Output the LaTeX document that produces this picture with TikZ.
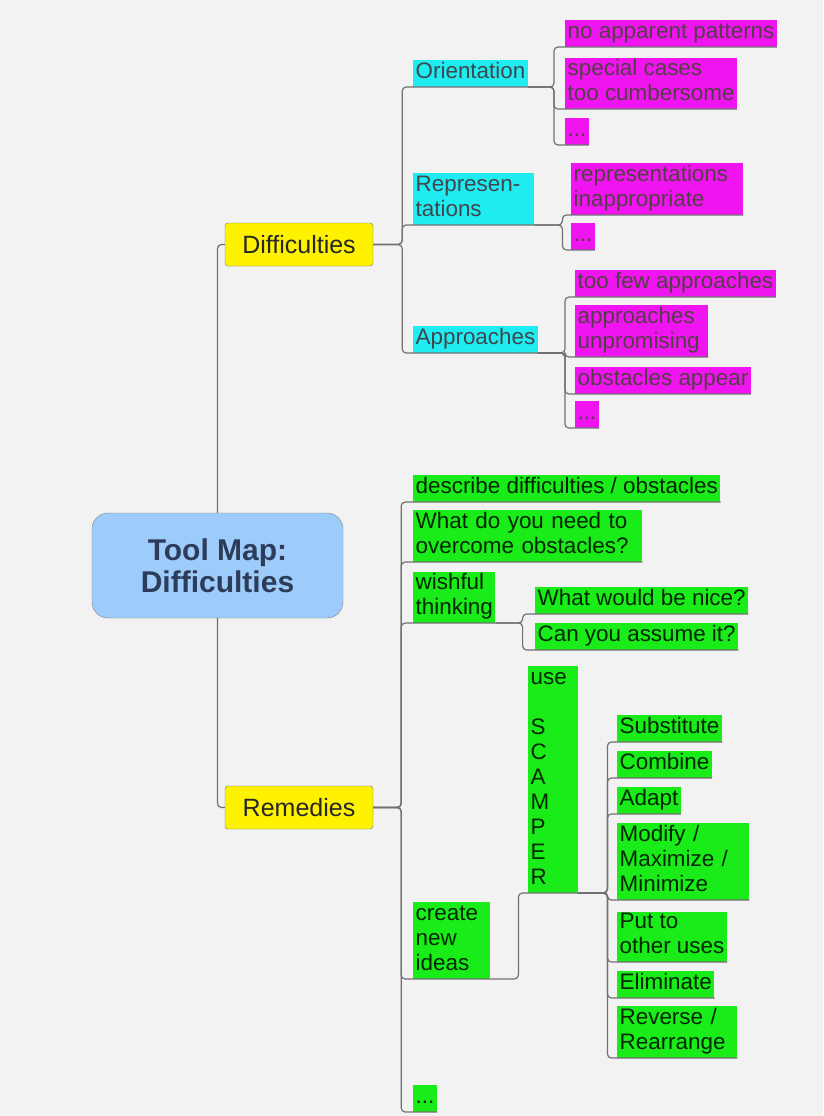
\documentclass[tikz,border=0pt]{standalone}
\usepackage{fontspec}
\setmainfont{Liberation Sans}

\definecolor{bg}{RGB}{242,242,242}
\definecolor{rootblue}{RGB}{158,204,250}
\definecolor{rootink}{RGB}{45,60,90}
\definecolor{linegray}{RGB}{112,112,112}
\definecolor{pinkbox}{RGB}{240,20,240}
\definecolor{cyanbox}{RGB}{30,236,240}
\definecolor{greenbox}{RGB}{25,236,25}

\tikzset{
  branchline/.style={draw=linegray, line width=1.2pt, rounded corners=4pt},
  rootbox/.style={draw=black!50, fill=rootblue, text=rootink, rounded corners=16pt,
    align=center, minimum width=251pt, minimum height=105pt,
    font=\fontsize{30}{32}\selectfont\bfseries},
  mainbox/.style={draw=black!55, fill=yellow, text=black!85, rounded corners=3pt,
    minimum width=148pt, minimum height=43pt, font=\fontsize{25}{28}\selectfont},
  mapitem/.style={anchor=south west, align=left, inner xsep=2.5pt, inner ysep=1pt,
    font=\fontsize{22.4}{25}\selectfont,
    execute at begin node=\strut, execute at end node=\strut},
  topic/.style={mapitem, fill=cyanbox, text=black!80!cyan},
  pinkitem/.style={mapitem, fill=pinkbox, text=black!78!magenta},
  idea/.style={mapitem, fill=greenbox, text=black!85!green},
}

\begin{document}
\begin{tikzpicture}[x=1pt, y=-1pt]
 \fill[bg] (0,0) rectangle (823,1116);
 \useasboundingbox (0,0) rectangle (823,1116);

 \node[rootbox] (root) at (217.5,565.5) {Tool Map:\\Difficulties};
 \node[mainbox] (diff) at (299,244.5) {Difficulties};
 \node[mainbox] (rem)  at (299,807.5) {Remedies};

 %% difficulties
 \node[topic] (ori)  at (413,87)  {Orientation};
 \node[topic, text width=116pt] (rep)  at (413,225) {Represen-\\tations};
 \node[topic] (appr) at (413,353) {Approaches};

 \node[pinkitem] (nopat)  at (565,47)  {no apparent patterns};
 \node[pinkitem] (spec)   at (565,109) {special cases\\too cumbersome};
 \node[pinkitem] (oridot) at (565,145) {...};
 \node[pinkitem, text width=167pt] (inapp)  at (571,215) {representations\\inappropriate};
 \node[pinkitem] (repdot) at (571,250) {...};
 \node[pinkitem] (few)    at (575,297) {too few approaches};
 \node[pinkitem, text width=128pt] (unprom) at (575,357) {approaches\\unpromising};
 \node[pinkitem] (obst)   at (575,394) {obstacles appear};
 \node[pinkitem] (appdot) at (575,428) {...};

 %% remedies
 \node[idea] (desc)   at (413,502)  {describe difficulties / obstacles};
 \node[idea, text width=224pt] (need)   at (413,562)  {What do you need to\\overcome obstacles?};
 \node[idea] (wish)   at (413,623)  {wishful\\thinking};
 \node[idea, text width=72pt] (create) at (413,979)  {create\\new\\ideas};
 \node[idea] (remdot) at (413,1112) {...};

 \node[idea] (nice)   at (535,614) {What would be nice?};
 \node[idea] (assume) at (535,650) {Can you assume it?};

 \node[idea, text width=45pt] (scamper) at (528,893) {use\\[25pt]S\\C\\A\\M\\P\\E\\R};

 \node[idea] (subst) at (617,742)  {Substitute};
 \node[idea] (comb)  at (617,778)  {Combine};
 \node[idea] (adapt) at (617,814)  {Adapt};
 \node[idea, text width=127pt] (modif) at (617,900)  {Modify /\\Maximize /\\Minimize};
 \node[idea] (puto)  at (617,962)  {Put to\\other uses};
 \node[idea] (elim)  at (617,998)  {Eliminate};
 \node[idea, text width=115pt] (revr)  at (617,1058) {Reverse /\\Rearrange};

 \draw[branchline] (root.north) |- (diff.west);
 \draw[branchline] (root.south) |- (rem.west);

 \draw[branchline] (diff.east) -- ++(29,0) |- (ori.south west) -- (ori.south east);
 \draw[branchline] (diff.east) -- ++(29,0) |- (rep.south west) -- (rep.south east);
 \draw[branchline] (diff.east) -- ++(29,0) |- (appr.south west) -- (appr.south east);

 \draw[branchline] (ori.south east) -- ++(26,0) |- (nopat.south west) -- (nopat.south east);
 \draw[branchline] (ori.south east) -- ++(26,0) |- (spec.south west) -- (spec.south east);
 \draw[branchline] (ori.south east) -- ++(26,0) |- (oridot.south west) -- (oridot.south east);
 \draw[branchline] (rep.south east) -- ++(28,0) |- (inapp.south west) -- (inapp.south east);
 \draw[branchline] (rep.south east) -- ++(28,0) |- (repdot.south west) -- (repdot.south east);
 \draw[branchline] (appr.south east) -- ++(27,0) |- (few.south west) -- (few.south east);
 \draw[branchline] (appr.south east) -- ++(27,0) |- (unprom.south west) -- (unprom.south east);
 \draw[branchline] (appr.south east) -- ++(27,0) |- (obst.south west) -- (obst.south east);
 \draw[branchline] (appr.south east) -- ++(27,0) |- (appdot.south west) -- (appdot.south east);

 \draw[branchline] (rem.east) -- ++(28,0) |- (desc.south west) -- (desc.south east);
 \draw[branchline] (rem.east) -- ++(28,0) |- (need.south west) -- (need.south east);
 \draw[branchline] (rem.east) -- ++(28,0) |- (wish.south west) -- (wish.south east);
 \draw[branchline] (rem.east) -- ++(28,0) |- (create.south west) -- (create.south east);
 \draw[branchline] (rem.east) -- ++(28,0) |- (remdot.south west) -- (remdot.south east);

 \draw[branchline] (wish.south east) -- ++(27,0) |- (nice.south west) -- (nice.south east);
 \draw[branchline] (wish.south east) -- ++(27,0) |- (assume.south west) -- (assume.south east);

 \draw[branchline] (create.south east) -- ++(28,0) |- (scamper.south west) -- (scamper.south east);

 \draw[branchline] (scamper.south east) -- ++(29,0) |- (subst.south west) -- (subst.south east);
 \draw[branchline] (scamper.south east) -- ++(29,0) |- (comb.south west) -- (comb.south east);
 \draw[branchline] (scamper.south east) -- ++(29,0) |- (adapt.south west) -- (adapt.south east);
 \draw[branchline] (scamper.south east) -- ++(29,0) |- (modif.south west) -- (modif.south east);
 \draw[branchline] (scamper.south east) -- ++(29,0) |- (puto.south west) -- (puto.south east);
 \draw[branchline] (scamper.south east) -- ++(29,0) |- (elim.south west) -- (elim.south east);
 \draw[branchline] (scamper.south east) -- ++(29,0) |- (revr.south west) -- (revr.south east);
\end{tikzpicture}
\end{document}
